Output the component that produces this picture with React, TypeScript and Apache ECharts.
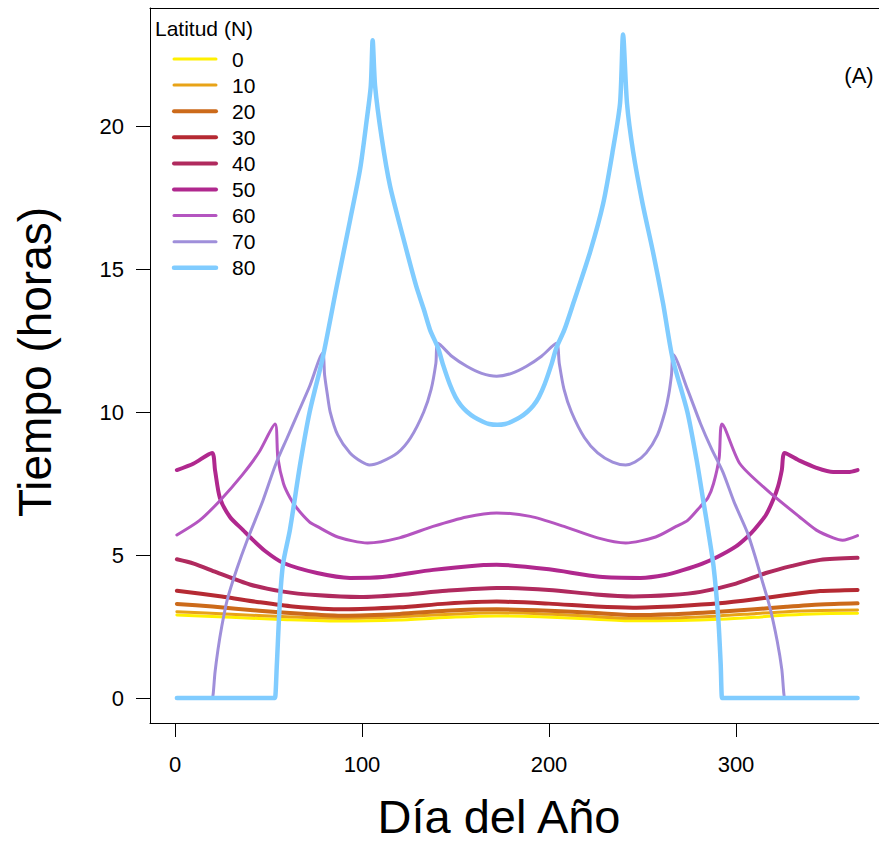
import React, { useEffect, useRef } from "react";
import * as echarts from "echarts";

const latitudes = ["0", "10", "20", "30", "40", "50", "60", "70", "80"];
const xTicks = [0, 100, 200, 300];
const yTicks = [0, 5, 10, 15, 20];

type P = [number, number];

const lat0: P[] = [[1,2.9],[30,2.82],[60,2.74],[90,2.69],[120,2.73],[150,2.83],[172,2.87],[195,2.84],[220,2.77],[245,2.7],[270,2.71],[291,2.75],[310,2.82],[327,2.9],[345,2.95],[365,2.96]];
const lat10: P[] = [[1,3.02],[30,2.93],[60,2.84],[90,2.79],[120,2.84],[150,2.94],[172,2.98],[195,2.95],[220,2.87],[240,2.79],[265,2.8],[291,2.87],[310,2.95],[327,3.02],[345,3.06],[365,3.08]];
const lat20: P[] = [[1,3.29],[20,3.2],[45,3.05],[70,2.94],[90,2.88],[120,2.94],[145,3.05],[172,3.1],[200,3.05],[225,2.97],[245,2.9],[265,2.93],[291,3.02],[310,3.1],[327,3.19],[345,3.27],[365,3.31]];
const lat30: P[] = [[1,3.75],[25,3.55],[45,3.35],[63,3.2],[90,3.1],[120,3.17],[145,3.3],[172,3.37],[200,3.3],[225,3.2],[245,3.16],[270,3.22],[291,3.31],[310,3.45],[327,3.6],[345,3.74],[365,3.78]];
const lat40: P[] = [[1,4.85],[10,4.7],[22,4.4],[40,3.97],[58,3.72],[75,3.6],[99,3.53],[120,3.6],[145,3.75],[172,3.85],[200,3.78],[225,3.62],[245,3.55],[265,3.6],[281,3.71],[300,4.0],[316,4.37],[330,4.62],[345,4.83],[365,4.9]];
const lat50: P[] = [[1,7.97],[10,8.2],[19.8,8.57],[21.4,7.97],[24,7.0],[29.4,6.33],[36.4,5.87],[40,5.63],[48,5.15],[58,4.72],[76,4.37],[93.6,4.2],[111,4.23],[138,4.48],[165,4.65],[172,4.66],[200,4.5],[227,4.24],[249,4.2],[262,4.3],[272,4.48],[282,4.7],[290,4.93],[300,5.3],[306,5.63],[310,5.9],[316,6.4],[320,6.95],[322.5,7.4],[324.5,7.97],[326,8.57],[334,8.3],[343,8.05],[352,7.9],[360,7.9],[365,7.97]];
const lat60: P[] = [[1,5.7],[13,6.2],[24,6.9],[36,7.8],[45,8.6],[53.5,9.58],[55,8.4],[58,7.5],[61.5,7.0],[65,6.65],[72,6.15],[76,6.0],[87,5.63],[103,5.42],[120,5.6],[138,6.0],[156,6.33],[172,6.47],[190,6.35],[208,6.0],[226,5.6],[241,5.42],[257,5.63],[268,6.0],[274,6.2],[281,6.7],[285,7.0],[288,7.5],[291,8.4],[292.5,9.58],[302,8.2],[316.6,7.27],[334,6.33],[343,5.87],[352,5.6],[357,5.52],[365,5.68]];
const lat70: P[] = [[1,0],[19.5,0],[20,0],[21.4,0.9],[23,1.7],[25,2.5],[27.8,3.4],[33,4.5],[38.5,5.5],[47,6.9],[54,8.2],[60,9.1],[66,10.0],[72,10.9],[79,12.06],[80,11.3],[81.5,10.6],[83,10.0],[87,9.2],[93.6,8.57],[100,8.25],[104,8.15],[110,8.25],[119,8.57],[126,9.1],[133,10.0],[137,10.8],[139.5,11.7],[140.6,12.4],[148,11.95],[156,11.6],[164,11.35],[172,11.25],[180,11.35],[188,11.6],[196,11.95],[204,12.4],[205.5,11.7],[208,10.8],[212,10.0],[219,9.1],[226,8.57],[234,8.25],[241,8.15],[246,8.25],[252,8.57],[258,9.2],[262,10.0],[264,10.6],[265.5,11.3],[266.5,12.0],[274,10.8],[281,9.6],[287,8.7],[293,7.9],[299,6.85],[306,5.8],[310,5.0],[314,4.1],[318,3.2],[322,2.0],[324.5,1.0],[326,0],[326.5,0],[365,0]];
const lat80: P[] = [[1,0],[53,0],[53.5,0],[54.4,1.08],[56.1,3.4],[57.8,4.7],[61.5,5.9],[67,8.2],[72,10.0],[79,11.9],[86.5,14.4],[93.6,16.7],[99,18.5],[102.5,20.2],[104.7,21.4],[105.7,23.0],[107,21.4],[110.5,19.6],[115,17.9],[122,16.1],[129,14.4],[133,13.6],[136.4,12.87],[140.6,12.25],[143.5,11.62],[147,10.96],[150,10.52],[153,10.22],[156,10.02],[160,9.82],[164.7,9.66],[168,9.58],[172.3,9.55],[176.6,9.58],[179.9,9.66],[184.6,9.82],[188.6,10.02],[191.6,10.22],[194.6,10.52],[197.6,10.96],[201.1,11.62],[204,12.25],[208.2,12.87],[213,13.8],[222,15.6],[229,17.3],[234,19.1],[238,20.8],[239.6,23.2],[241.7,20.8],[245,19.1],[250,17.3],[255.6,15.6],[261,13.8],[266,11.9],[274,10.0],[279,8.3],[282.5,6.9],[285,5.9],[288,4.6],[290.5,2.8],[291.8,1.2],[292.5,0],[293,0],[365,0]];

const seriesData = [lat0, lat10, lat20, lat30, lat40, lat50, lat60, lat70, lat80];
const colors = ["#FFF000", "#E8A317", "#CC6A1A", "#B52A33", "#B02A5E", "#B0288E", "#B455C0", "#9F8FDA", "#80CCFF"];
const widths = [3, 3, 4, 4, 4, 4, 3, 3, 4.5];

const FONT = '"Liberation Sans", Arial, sans-serif';
const X_MIN = -13.37;
const X_MAX = 376.47;

export default function App() {
  const ref = useRef<HTMLDivElement>(null);
  useEffect(() => {
    if (!ref.current) return;
    const chart = echarts.init(ref.current, undefined, { renderer: "svg" });
    const legendGraphics: any[] = [
      {
        type: "text",
        x: 155,
        y: 28,
        style: { text: "Latitud (N)", fill: "#000", font: `21px ${FONT}`, align: "left", verticalAlign: "middle" },
      },
    ];
    latitudes.forEach((lat, i) => {
      const yy = 59 + i * 26.1;
      legendGraphics.push({
        type: "line",
        shape: { x1: 174, y1: yy, x2: 216, y2: yy },
        style: { stroke: colors[i], lineWidth: widths[i], lineCap: "round" },
      });
      legendGraphics.push({
        type: "text",
        x: 232,
        y: yy,
        style: { text: lat, fill: "#000", font: `21px ${FONT}`, align: "left", verticalAlign: "middle" },
      });
    });
    const lineStyle = { color: "#000", width: 1 };
    chart.setOption({
      animation: false,
      backgroundColor: "#fff",
      grid: { left: 150, top: 8, width: 729, height: 715, show: false },
      xAxis: [
        {
          type: "value",
          min: X_MIN,
          max: X_MAX,
          position: "bottom",
          splitLine: { show: false },
          axisLine: { show: true, onZero: false, lineStyle },
          axisTick: { show: true, customValues: xTicks, length: 14, lineStyle },
          axisLabel: { customValues: xTicks, color: "#000", fontSize: 22, fontFamily: FONT, margin: 30 },
        },
        {
          type: "value",
          min: X_MIN,
          max: X_MAX,
          position: "top",
          splitLine: { show: false },
          axisLine: { show: true, onZero: false, lineStyle },
          axisTick: { show: false },
          axisLabel: { show: false },
        },
      ],
      yAxis: {
        type: "value",
        min: -0.874,
        max: 24.126,
        splitLine: { show: false },
        axisLine: { show: true, onZero: false, lineStyle },
        axisTick: { show: true, customValues: yTicks, length: 14, lineStyle },
        axisLabel: { customValues: yTicks, color: "#000", fontSize: 22, fontFamily: FONT, margin: 26 },
      },
      series: seriesData.map((d, i) => ({
        type: "line",
        name: latitudes[i],
        data: d,
        xAxisIndex: 0,
        symbol: "none",
        showSymbol: false,
        smooth: 0.25,
        lineStyle: { color: colors[i], width: widths[i], cap: "round", join: "round" },
        itemStyle: { color: colors[i] },
        z: 2 + i,
      })),
      graphic: [
        ...legendGraphics,
        {
          type: "text",
          x: 859,
          y: 75,
          style: { text: "(A)", fill: "#000", font: `22px ${FONT}`, align: "center", verticalAlign: "middle" },
        },
        {
          type: "text",
          x: 499,
          y: 816,
          style: { text: "Día del Año", fill: "#000", font: `47px ${FONT}`, align: "center", verticalAlign: "middle" },
        },
        {
          type: "text",
          x: 35,
          y: 362,
          rotation: Math.PI / 2,
          style: { text: "Tiempo (horas)", fill: "#000", font: `46px ${FONT}`, align: "center", verticalAlign: "middle" },
        },
      ],
    });
    return () => chart.dispose();
  }, []);
  return <div ref={ref} style={{ position: "fixed", left: 0, top: 0, width: 879, height: 842 }} />;
}
